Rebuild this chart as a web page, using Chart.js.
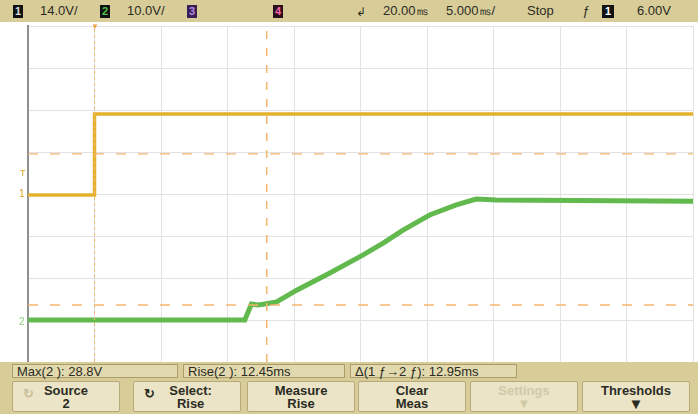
<!DOCTYPE html>
<html>
<head>
<meta charset="utf-8">
<script src="https://cdn.jsdelivr.net/npm/chart.js@4/dist/chart.umd.min.js"></script>
<style>
  body { margin: 0; background: #fff; font-family: "Liberation Sans", Arial, sans-serif; }
  #wrap { position: relative; width: 698px; height: 414px; overflow: hidden; background: #fff; }
  #scope { position: absolute; left: 0; top: 0; }
  .bar { position: absolute; background: #d8cd98; }
  .txt { position: absolute; font-size: 13px; color: #2b2b24; white-space: nowrap; line-height: 14px; }
  .badge { position: absolute; top: 5px; width: 10px; height: 13px; background: #111; color: #ddd;
           font: bold 11px "Liberation Sans", Arial, sans-serif; text-align: center; line-height: 13px; }
  .meas { position: absolute; top: 364px; height: 14px; background: #e2d9ae; border: 1px solid #a99d6a;
          font-size: 13px; line-height: 14px; padding-left: 4px; color: #2b2b24; box-sizing: border-box; }
  .key { position: absolute; top: 381px; height: 31px; width: 108px; background: #ece4c6; border: 1px solid #b5aa78;
         border-radius: 2px; box-sizing: border-box; text-align: center; font-size: 13px; line-height: 13px;
         color: #2b2b24; padding-top: 2px; font-weight: bold; }
  .ico { position: absolute; left: 10px; top: 5px; font-size: 13px; }
</style>
</head>
<body>
<div id="wrap">
  <canvas id="scope" width="698" height="414"></canvas>

  <!-- top status line -->
  <div class="bar" style="left:0;top:0;width:698px;height:22px;"></div>
  <div class="badge" style="left:13px;">1</div>
  <div class="txt" style="left:40px;top:4px;">14.0V/</div>
  <div class="badge" style="left:100px;color:#4fc24a;">2</div>
  <div class="txt" style="left:127px;top:4px;">10.0V/</div>
  <div class="badge" style="left:187px;background:#3a1f55;color:#b68ae0;">3</div>
  <div class="badge" style="left:273px;background:#2a0f1a;color:#ff66aa;">4</div>
  <div class="txt" style="left:356px;top:5px;font-size:12px;">&#8626;</div>
  <div class="txt" style="left:383px;top:4px;">20.00&#13235;</div>
  <div class="txt" style="left:446px;top:4px;">5.000&#13235;/</div>
  <div class="txt" style="left:527px;top:4px;">Stop</div>
  <div class="txt" style="left:582px;top:4px;font-style:italic;">&#402;</div>
  <div class="badge" style="left:602px;width:12px;color:#fff;">1</div>
  <div class="txt" style="left:637px;top:4px;">6.00V</div>

  <!-- ground / trigger markers -->
  <div class="txt" style="left:20px;top:166px;font-size:9px;color:#e0a020;">T</div>
  <div class="txt" style="left:19px;top:187px;font-size:10px;color:#e0a020;">1</div>
  <div class="txt" style="left:19px;top:315px;font-size:10px;color:#8ccf7e;">2</div>
  <div class="txt" style="left:91px;top:20px;font-size:8px;color:#f0a040;">&#9660;</div>

  <!-- measurement line -->
  <div class="bar" style="left:0;top:362px;width:698px;height:52px;"></div>
  <div class="meas" style="left:12px;width:166px;">Max(2 ): 28.8V</div>
  <div class="meas" style="left:183px;width:162px;">Rise(2 ): 12.45ms</div>
  <div class="meas" style="left:350px;width:167px;">&#916;(1 &#402;&#8594;2 &#402;): 12.95ms</div>

  <!-- softkeys -->
  <div class="key" style="left:12px;"><span class="ico" style="color:#c8bf9c;">&#8635;</span>Source<br>2</div>
  <div class="key" style="left:133px;"><span class="ico">&#8635;</span>&nbsp;&nbsp;Select:<br>&nbsp;&nbsp;Rise</div>
  <div class="key" style="left:247px;">Measure<br>Rise</div>
  <div class="key" style="left:358px;">Clear<br>Meas</div>
  <div class="key" style="left:470px;color:#d2c9a6;">Settings<br>&#9660;</div>
  <div class="key" style="left:582px;">Thresholds<br><span style="font-size:15px;">&#9660;</span></div>
</div>

<script>
// time axis in ms (t = 0 at the trigger), 5 ms per division
const timeTicks = [-5, 0, 5, 10, 15, 20, 25, 30, 35, 40, 45];

// channel 1 (yellow), volts
const tCh1 = [-5, 0, 0, 45];
const vCh1 = [-0.3, -0.3, 26.7, 26.7];

// channel 2 (green), volts
const tCh2 = [-5, 11.3, 11.8, 12.3, 12.8, 13.7, 15.2, 17.7, 20.2, 21.7, 23.2, 25.2, 27.2, 28.7, 30.2, 45];
const vCh2 = [0, 0, 3.8, 3.6, 3.8, 4.3, 7.1, 11.2, 15.5, 18.3, 21.4, 25.0, 27.4, 28.8, 28.6, 28.3];

// measurement markers
const markTimes = [0, 12.95];      // ms
const markCh1Level = 13.35;        // V, channel 1 threshold
const markCh2Level = 3.6;          // V, channel 2 threshold

function pts(xs, ys) {
  return xs.map((x, i) => ({ x: x, y: ys[i] }));
}

const ch1 = pts(tCh1, vCh1);
const ch2 = pts(tCh2, vCh2);
const orange = "#f4b56e";

const ctx = document.getElementById("scope").getContext("2d");
new Chart(ctx, {
  type: "line",
  data: {
    datasets: [
      { data: [{ x: markTimes[0], y: -10 }, { x: markTimes[0], y: 70 }], yAxisID: "y2",
        borderColor: orange, borderWidth: 1, borderDash: [3, 3] },
      { data: [{ x: markTimes[1], y: -10 }, { x: markTimes[1], y: 70 }], yAxisID: "y2",
        borderColor: orange, borderWidth: 1.5, borderDash: [8, 9] },
      { data: [{ x: -5, y: markCh1Level }, { x: 45, y: markCh1Level }], yAxisID: "y1",
        borderColor: orange, borderWidth: 1.2, borderDash: [10, 12] },
      { data: [{ x: -5, y: markCh2Level }, { x: 45, y: markCh2Level }], yAxisID: "y2",
        borderColor: orange, borderWidth: 1.5, borderDash: [10, 12] },
      { data: ch1, yAxisID: "y1", borderColor: "#e3b12c", borderWidth: 3.5 },
      { data: ch1, yAxisID: "y1", borderColor: "rgba(110,90,20,0.6)", borderWidth: 1 },
      { data: ch2, yAxisID: "y2", borderColor: "#62b94e", borderWidth: 5 },
      { data: ch2, yAxisID: "y2", borderColor: "rgba(40,70,30,0.55)", borderWidth: 1, borderDash: [2, 3] }
    ]
  },
  options: {
    responsive: false,
    animation: false,
    elements: { point: { radius: 0 }, line: { tension: 0 } },
    layout: { padding: { left: 28, right: 5, top: 26, bottom: 52 } },
    plugins: { legend: { display: false }, tooltip: { enabled: false } },
    scales: {
      x: {
        type: "linear", min: -5, max: 45,
        afterBuildTicks: (axis) => { axis.ticks = timeTicks.map(v => ({ value: v })); },
        ticks: { display: false },
        grid: { color: "#e2e2e2", lineWidth: 1, drawTicks: false },
        border: { color: "#e2e2e2" }
      },
      y2: {
        type: "linear", position: "left", min: -10, max: 70,
        ticks: { display: false, stepSize: 10 },
        grid: { color: "#e2e2e2", lineWidth: 1, drawTicks: false },
        border: { color: "#8f8f8f", width: 2 }
      },
      y1: { type: "linear", display: false, min: -56, max: 56 }
    }
  }
});
</script>
</body>
</html>
